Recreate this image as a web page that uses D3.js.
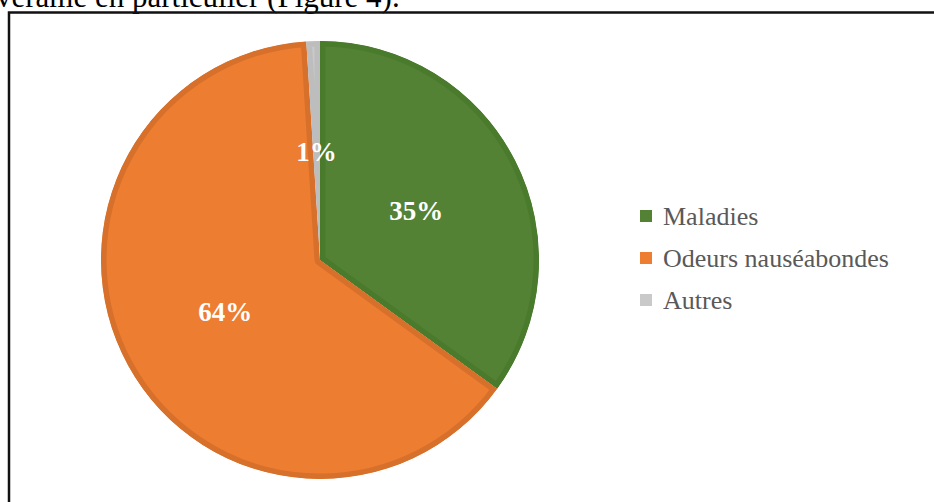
<!DOCTYPE html>
<html>
<head>
<meta charset="utf-8">
<script src="https://cdn.jsdelivr.net/npm/d3@7"></script>
<style>
  body { margin: 0; background: #fff; }
  svg { display: block; }
</style>
</head>
<body>
<div id="chart"></div>
<script>
// constants for the frame
const FRAME_WIDTH = 934;
const FRAME_HEIGHT = 502;
const CENTER = {x: 320, y: 260};
const RADIUS = 219;
const SERIF = "'Liberation Serif', 'Times New Roman', serif";

// data
const categories = ["Maladies", "Odeurs nauséabondes", "Autres"];
const values = [35, 64, 1];
const fills = ["#548235", "#ED7D31", "#C9C9C9"];
const edges = ["#4A7A2C", "#D7702B", "#BDBDBD"];

const FRAME = d3.select("#chart")
                .append("svg")
                  .attr("width", FRAME_WIDTH)
                  .attr("height", FRAME_HEIGHT);

// the line of page text cut at the top
FRAME.append("text")
      .attr("x", -4)
      .attr("y", 7)
      .attr("font-family", SERIF)
      .attr("font-size", 31)
      .attr("fill", "#000")
      .text("verame en particulier (Figure 4).");

// box around the figure (right and bottom go off the page)
FRAME.append("path")
      .attr("d", "M9,504 L9,12.5 L940,12.5")
      .attr("fill", "none")
      .attr("stroke", "#111")
      .attr("stroke-width", 2.5);

// pie
const pie = d3.pie().sort(null).startAngle(0).endAngle(2 * Math.PI);
const arcs = pie(values);

const arc = d3.arc().innerRadius(0).outerRadius(RADIUS);
const labelArc = d3.arc().innerRadius(108).outerRadius(108);

const G = FRAME.append("g")
      .attr("transform", "translate(" + CENTER.x + "," + CENTER.y + ")");

// clip each slice to itself so the stroke only shows inside (darker rim)
G.selectAll("clipPath")
  .data(arcs)
  .enter().append("clipPath")
    .attr("id", (d, i) => "clip" + i)
  .append("path")
    .attr("d", arc);

G.selectAll(".slice")
  .data(arcs)
  .enter().append("path")
    .attr("class", "slice")
    .attr("d", arc)
    .attr("fill", (d, i) => fills[i])
    .attr("stroke", (d, i) => edges[i])
    .attr("stroke-width", 11)
    .attr("stroke-linejoin", "round")
    .attr("clip-path", (d, i) => "url(#clip" + i + ")");

// percentage labels
G.selectAll(".label")
  .data(arcs)
  .enter().append("text")
    .attr("class", "label")
    .attr("transform", d => "translate(" + labelArc.centroid(d) + ")")
    .attr("text-anchor", "middle")
    .attr("dominant-baseline", "central")
    .attr("font-family", SERIF)
    .attr("font-weight", "bold")
    .attr("font-size", 27)
    .attr("fill", "#fff")
    .text(d => d.data + "%");

// legend
const LEGEND = {x: 640, y: 216, step: 42, box: 12};

const leg = FRAME.selectAll(".legend")
  .data(categories)
  .enter().append("g")
    .attr("class", "legend")
    .attr("transform", (d, i) => "translate(" + LEGEND.x + "," + (LEGEND.y + i * LEGEND.step) + ")");

leg.append("rect")
    .attr("x", 0)
    .attr("y", -LEGEND.box / 2)
    .attr("width", LEGEND.box)
    .attr("height", LEGEND.box)
    .attr("fill", (d, i) => fills[i]);

leg.append("text")
    .attr("x", 23)
    .attr("y", 0)
    .attr("dominant-baseline", "central")
    .attr("font-family", SERIF)
    .attr("font-size", 26)
    .attr("fill", "#595959")
    .text(d => d);
</script>
</body>
</html>
